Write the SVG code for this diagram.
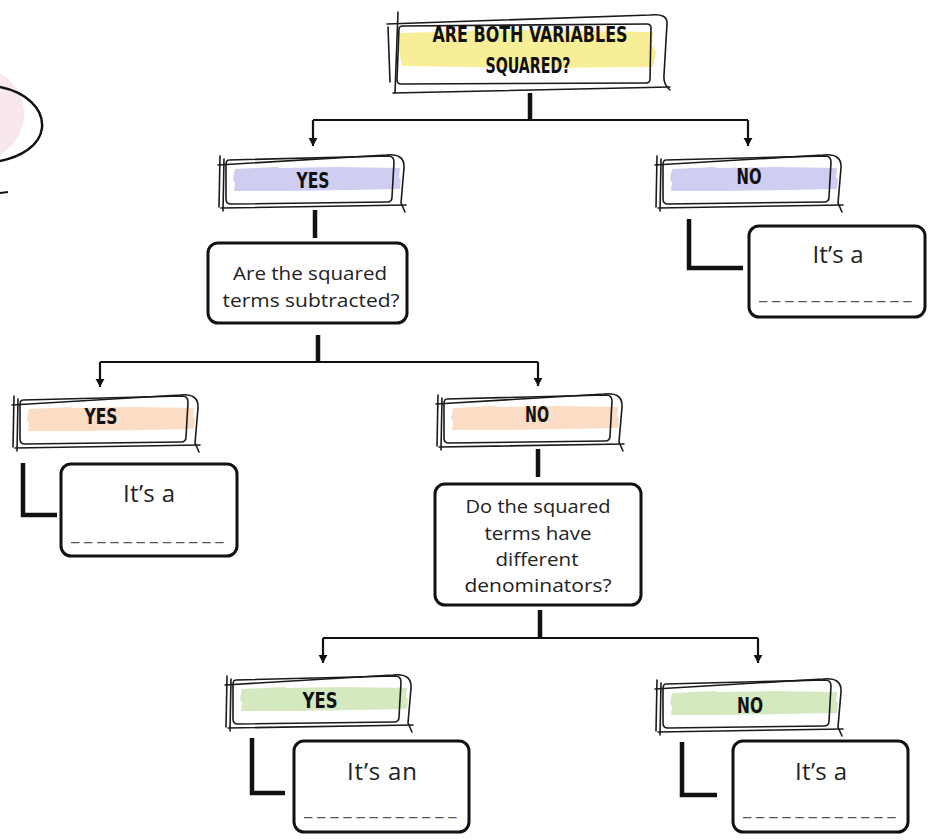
<svg xmlns="http://www.w3.org/2000/svg" xmlns:xlink="http://www.w3.org/1999/xlink" width="931" height="840" viewBox="0 0 931 840">
<style>
.sk{fill:none;stroke:#1a1a1a;stroke-width:1.6;stroke-linecap:round;stroke-linejoin:round}
.lbl{font-family:'DejaVu Sans Condensed','DejaVu Sans',sans-serif;font-stretch:condensed;font-weight:bold;font-size:21px;fill:#111;text-anchor:middle}
.q{font-family:'Open Sans','Noto Sans',sans-serif;font-size:17.5px;fill:#222;text-anchor:middle}
.big{font-family:'Open Sans','Noto Sans',sans-serif;font-size:24px;fill:#222;text-anchor:middle}
.dash{font-family:'Open Sans','Noto Sans',sans-serif;font-size:19px;fill:#555;letter-spacing:4.8px}
.box{fill:#fff;stroke:#111;stroke-width:3}
.thick{fill:none;stroke:#111;stroke-width:4.5}
.thin{fill:none;stroke:#111;stroke-width:2.2}
</style>
<defs>
<marker id="arr" viewBox="0 0 10 10" refX="9" refY="5" markerWidth="9" markerHeight="11" markerUnits="userSpaceOnUse" orient="auto">
<path d="M0,0 L9,5 L0,10 Z" fill="#111"/>
</marker>
<g id="frame">
<path class="sk" d="M11,5 L170,1 Q176,1 176,7 L174,42 Q174,47 169,47 L13,49 Q8,49 8,44 L8,10 Q8,5 11,5 Z"/>
<path class="sk" d="M0,10 L168,0 Q187,-2 186,13 L183,48 L187,57"/>
<path class="sk" d="M2,1 L1,52"/>
<path class="sk" d="M6,4 L5,56"/>
<path class="sk" d="M3,53 L188,50"/>
</g>
<path id="hl" d="M17,14 L60,12 L61,13 L120,12 L182,13 L181,22 L183,24 L182,34 L130,35 L70,36 L16,36 L17,28 L15,24 Z"/>
</defs>

<g id="decor">
<circle cx="-22" cy="114" r="46" fill="#f8e8ed"/>
<path d="M0,87 C25,92 44,108 42,128 C40,146 20,157 0,161" fill="none" stroke="#111" stroke-width="2.5"/>
<path d="M0,193 L8,192" fill="none" stroke="#111" stroke-width="2"/>
</g>

<g id="connectors">
<path class="thick" d="M530,93 L530,120"/>
<path class="thin" d="M313,120 L748,120"/>
<path class="thin" d="M313,120 L313,146" marker-end="url(#arr)"/>
<path class="thin" d="M748,120 L748,146" marker-end="url(#arr)"/>
<path class="thick" d="M315,210 L315,238"/>
<path class="thick" d="M689,219 L689,268 L743,268"/>
<path class="thick" d="M318,335 L318,362"/>
<path class="thin" d="M100,362 L538,362"/>
<path class="thin" d="M100,362 L100,387" marker-end="url(#arr)"/>
<path class="thin" d="M538,362 L538,386" marker-end="url(#arr)"/>
<path class="thick" d="M23,463 L23,515 L57,515"/>
<path class="thick" d="M538,449 L538,477"/>
<path class="thick" d="M540,610 L540,638"/>
<path class="thin" d="M323,638 L758,638"/>
<path class="thin" d="M323,638 L323,663" marker-end="url(#arr)"/>
<path class="thin" d="M758,638 L758,663" marker-end="url(#arr)"/>
<path class="thick" d="M252,738 L252,793 L285,793"/>
<path class="thick" d="M682,742 L682,795 L717,795"/>
</g>

<g id="q-top">
<path d="M400,33 L520,30 L653,32 L652,45 L656,52 L653,67 L540,68 L402,66 L399,50 Z" fill="#f8ee98"/>
<path class="sk" d="M399,29 Q399,26 403,26 L647,24 Q651,24 651,28 L650,79 Q650,83 646,83 L401,84 Q397,84 397,80 Z"/>
<path class="sk" d="M387,24 L650,15 Q668,13 667,24 L664,75 Q663,84 670,90"/>
<path class="sk" d="M393,93 L670,87"/>
<path class="sk" d="M398,12 L395,93"/>
<path class="sk" d="M388,27 L390,82"/>
<text class="lbl" x="530" y="42" font-size="22" textLength="195" lengthAdjust="spacingAndGlyphs">ARE BOTH VARIABLES</text>
<text class="lbl" x="528" y="73" font-size="22" textLength="85" lengthAdjust="spacingAndGlyphs">SQUARED?</text>
</g>

<g id="yes-1">
<use href="#hl" x="218" y="155" fill="#cfcdf0"/>
<use href="#frame" x="218" y="155"/>
<text class="lbl" x="313" y="188" textLength="33" lengthAdjust="spacingAndGlyphs">YES</text>
</g>
<g id="no-1">
<use href="#hl" x="655" y="155" fill="#cfcdf0"/>
<use href="#frame" x="655" y="155"/>
<text class="lbl" x="749" y="184" textLength="25" lengthAdjust="spacingAndGlyphs">NO</text>
</g>

<g id="q-subtracted">
<rect class="box" x="208" y="243" width="199" height="80" rx="10"/>
<text class="q" x="310" y="280" textLength="154" lengthAdjust="spacingAndGlyphs">Are the squared</text>
<text class="q" x="311" y="307" textLength="177" lengthAdjust="spacingAndGlyphs">terms subtracted?</text>
</g>

<g id="ans-1">
<rect class="box" x="749" y="226" width="176" height="91" rx="10"/>
<text class="big" x="838" y="263" textLength="51" lengthAdjust="spacing">It’s a</text>
<text class="dash" x="759" y="299">____________</text>
</g>

<g id="yes-2">
<use href="#hl" x="12" y="395" fill="#fbdcc4"/>
<use href="#frame" x="12" y="395"/>
<text class="lbl" x="101" y="424" textLength="33" lengthAdjust="spacingAndGlyphs">YES</text>
</g>
<g id="no-2">
<use href="#hl" x="436" y="394" fill="#fbdcc4"/>
<use href="#frame" x="436" y="394"/>
<text class="lbl" x="537" y="422" textLength="24" lengthAdjust="spacingAndGlyphs">NO</text>
</g>

<g id="ans-2">
<rect class="box" x="61" y="464" width="176" height="92" rx="10"/>
<text class="big" x="149" y="502" textLength="52" lengthAdjust="spacing">It’s a</text>
<text class="dash" x="71" y="540">____________</text>
</g>

<g id="q-denominators">
<rect class="box" x="435" y="484" width="206" height="121" rx="10"/>
<text class="q" x="538" y="513" textLength="145" lengthAdjust="spacingAndGlyphs">Do the squared</text>
<text class="q" x="538" y="540" textLength="107" lengthAdjust="spacingAndGlyphs">terms have</text>
<text class="q" x="537" y="566" textLength="83" lengthAdjust="spacingAndGlyphs">different</text>
<text class="q" x="538" y="592" textLength="147" lengthAdjust="spacingAndGlyphs">denominators?</text>
</g>

<g id="yes-3">
<use href="#hl" x="225" y="675" fill="#d5e9c0"/>
<use href="#frame" x="225" y="675"/>
<text class="lbl" x="320" y="708" textLength="35" lengthAdjust="spacingAndGlyphs">YES</text>
</g>
<g id="no-3">
<use href="#hl" x="655" y="679" fill="#d5e9c0"/>
<use href="#frame" x="655" y="679"/>
<text class="lbl" x="750" y="713" textLength="26" lengthAdjust="spacingAndGlyphs">NO</text>
</g>

<g id="ans-3">
<rect class="box" x="294" y="741" width="175" height="91" rx="10"/>
<text class="big" x="382" y="780" textLength="70" lengthAdjust="spacing">It’s an</text>
<text class="dash" x="304" y="815">____________</text>
</g>
<g id="ans-4">
<rect class="box" x="733" y="741" width="175" height="91" rx="10"/>
<text class="big" x="821" y="780" textLength="52" lengthAdjust="spacing">It’s a</text>
<text class="dash" x="743" y="815">____________</text>
</g>
</svg>
